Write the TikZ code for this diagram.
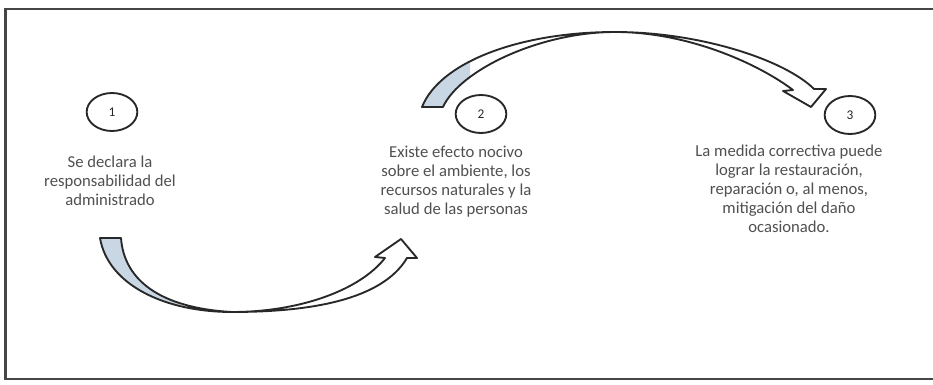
\documentclass[tikz,border=0pt]{standalone}
\usepackage{fontspec}
\setmainfont{Carlito}
\usetikzlibrary{shapes.geometric}
\definecolor{ribbon}{RGB}{201,214,228}
\definecolor{ink}{RGB}{40,40,40}
\definecolor{txt}{RGB}{80,80,80}
\definecolor{framec}{RGB}{70,70,70}
\begin{document}
\begin{tikzpicture}[x=0.75pt,y=-0.75pt,
  num/.style={draw=ink, line width=1.4pt, ellipse, minimum width=38pt, minimum height=28.5pt, inner sep=0pt, font=\fontsize{10}{12}\selectfont, text=ink},
  desc/.style={align=center, text=txt, font=\fontsize{12.5}{14.3}\selectfont, inner sep=0pt},
  outline/.style={draw=ink, line width=1.4pt, line join=round},
  front/.style={fill=white, outline},
  frameline/.style={draw=framec, line width=2pt}]
\useasboundingbox (0,0) rectangle (933,385);
\fill[white] (0,0) rectangle (933,385);
% frame
\draw[frameline] (940,9) -- (5.5,9) -- (5.5,379) -- (940,379);

% numbered ellipses
\node[num] (c1) at (112,112) {1};
\node[num] (c2) at (481,114) {2};
\node[num] (c3) at (850,115) {3};

% texts
\node[desc] (t1) at (110,181) {Se declara la\\responsabilidad del\\administrado};
\node[desc] (t2) at (456,182) {Existe efecto nocivo\\sobre el ambiente, los\\recursos naturales y la\\salud de las personas};
\node[desc] (t3) at (789,189) {La medida correctiva puede\\lograr la restauración,\\reparación o, al menos,\\mitigación del daño\\ocasionado.};

% lower curved arrow (1 -> 2)
\coordinate (la1) at (100,238);
\coordinate (la2) at (121,238);
\coordinate (lm) at (232,312);
\coordinate (ln1) at (385,258);
\coordinate (lb1) at (375,257);
\coordinate (ltip) at (401,239);
\coordinate (lb2) at (417,258);
\coordinate (ln2) at (407,258);
\begin{scope}
\clip (0,0) rectangle (180,385);
\fill[ribbon] (la1) .. controls (108,285) and (165,312) .. (lm) .. controls (160,308) and (124,280) .. (la2) -- cycle;
\end{scope}
\draw[outline] (la1) .. controls (108,285) and (165,312) .. (lm) .. controls (160,308) and (124,280) .. (la2) -- cycle;
\filldraw[front] (lm) .. controls (300,312) and (360,290) .. (ln1) -- (lb1) -- (ltip) -- (lb2) -- (ln2) .. controls (382,300) and (310,312) .. (lm) -- cycle;

% upper curved arrow (2 -> 3)
\coordinate (ua1) at (422,107);
\coordinate (ua2) at (443,107);
\coordinate (um) at (615,32);
\coordinate (un1) at (793,90);
\coordinate (ub1) at (783,91);
\coordinate (utip) at (811,107);
\coordinate (ub2) at (826,89);
\coordinate (un2) at (814,89);
\begin{scope}
\clip (0,0) rectangle (470,385);
\fill[ribbon] (ua1) .. controls (440,62) and (520,32) .. (um) .. controls (540,32) and (460,70) .. (ua2) -- cycle;
\end{scope}
\draw[outline] (ua1) .. controls (440,62) and (520,32) .. (um) .. controls (540,32) and (460,70) .. (ua2) -- cycle;
\filldraw[front] (um) .. controls (690,32) and (760,65) .. (un1) -- (ub1) -- (utip) -- (ub2) -- (un2) .. controls (785,60) and (700,32) .. (um) -- cycle;
\end{tikzpicture}
\end{document}
